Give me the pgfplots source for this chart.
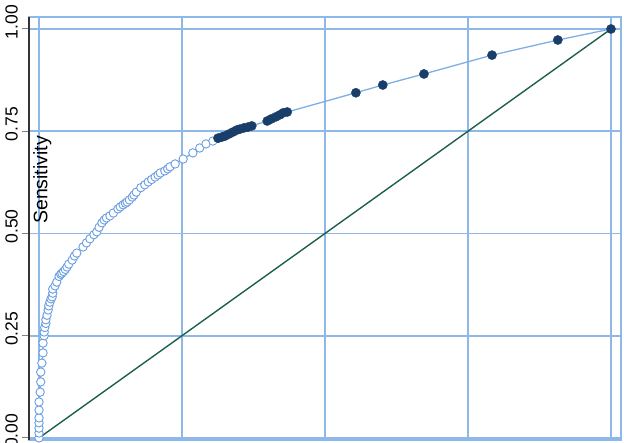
\documentclass[border=0pt]{standalone}
\usepackage{pgfplots}
\pgfplotsset{compat=1.18}
\usepackage{pgfplotstable}
\usepackage{fontspec}
\setmainfont{Liberation Sans}

\definecolor{gridblue}{HTML}{8DB8E8}
\definecolor{curveblue}{HTML}{7EAEE6}
\definecolor{markblue}{HTML}{6A9EE0}
\definecolor{navy}{HTML}{1A3E6A}
\definecolor{diaggreen}{HTML}{1D5F4F}
\definecolor{spine}{HTML}{333333}

% ROC points below the cut-off (hollow)
\pgfplotstableread{
x y
0 0
0 0.012
0 0.024
0 0.037
0 0.049
0 0.068
0 0.088
0.002 0.112
0.003 0.137
0.003 0.161
0.005 0.183
0.007 0.208
0.007 0.232
0.009 0.250
0.009 0.259
0.010 0.270
0.012 0.280
0.012 0.289
0.014 0.300
0.016 0.313
0.017 0.323
0.019 0.332
0.021 0.340
0.023 0.345
0.024 0.354
0.024 0.364
0.028 0.372
0.031 0.381
0.035 0.395
0.038 0.400
0.040 0.403
0.043 0.407
0.046 0.412
0.049 0.418
0.052 0.425
0.058 0.435
0.062 0.445
0.066 0.452
0.077 0.467
0.083 0.477
0.089 0.487
0.096 0.497
0.101 0.504
0.105 0.515
0.110 0.526
0.114 0.533
0.118 0.538
0.124 0.543
0.130 0.550
0.138 0.560
0.142 0.565
0.147 0.570
0.151 0.574
0.154 0.577
0.158 0.582
0.163 0.589
0.166 0.594
0.170 0.601
0.178 0.612
0.185 0.619
0.191 0.626
0.197 0.632
0.203 0.638
0.208 0.643
0.212 0.648
0.220 0.653
0.225 0.658
0.229 0.663
0.238 0.670
0.252 0.682
0.269 0.697
0.281 0.709
0.292 0.719
0.304 0.726
0.313 0.733
}\hollow

% ROC points above the cut-off (filled)
\pgfplotstableread{
x y
0.313 0.733
0.320 0.736
0.325 0.738
0.332 0.743
0.339 0.748
0.346 0.753
0.351 0.755
0.358 0.758
0.365 0.760
0.372 0.763
0.399 0.775
0.406 0.780
0.414 0.785
0.421 0.790
0.427 0.795
0.434 0.797
0.554 0.844
0.601 0.863
0.673 0.890
0.792 0.936
0.907 0.973
1 1
}\filled

\begin{document}
\begin{tikzpicture}
\begin{axis}[
scale only axis,
width=592pt, height=423pt,
xmin=-0.0175, xmax=1.0175,
ymin=-0.005, ymax=1.0293,
xtick={0,0.25,0.5,0.75,1},
xticklabels={},
xtick style={draw=none},
ytick={0,0.25,0.5,0.75,1},
yticklabels={0.00,0.25,0.50,0.75,1.00},
ytick pos=left,
tick align=outside,
major tick length=7pt,
major tick style={line width=1pt},
yticklabel style={font=\fontsize{17.5}{20}\selectfont, inner sep=0pt,
  xshift=-4pt, yshift=7pt, rotate=90, anchor=south},
grid=major,
major grid style={draw=gridblue, line width=1.6pt},
axis line style={gridblue, line width=1.6pt},
clip=false,
]
\addplot[curveblue, line width=1.3pt, no marks] table[x=x,y=y] {\hollow};
\addplot[curveblue, line width=1.3pt, no marks] table[x=x,y=y] {\filled};
\addplot[diaggreen, line width=1.4pt, no marks] coordinates {(0,0) (1,1)};
\addplot[only marks, mark=*, mark size=4.2pt,
  mark options={draw=markblue, fill=white, line width=0.9pt}]
  table[x=x,y=y] {\hollow};
\addplot[only marks, mark=*, mark size=4.6pt,
  mark options={draw=navy, fill=navy}]
  table[x=x,y=y] {\filled};
\draw[spine, line width=1.4pt] (rel axis cs:0,0) -- (rel axis cs:0,1);
\node[rotate=90, anchor=north, inner sep=0pt,
  font=\fontsize{19.5}{22}\selectfont] at (axis cs:-0.0105,0.631) {Sensitivity};
\coordinate (sw) at (rel axis cs:0,0);
\coordinate (ne) at (rel axis cs:1,1);
\end{axis}
\pgfresetboundingbox
\useasboundingbox ([xshift=-29pt,yshift=-3pt]sw) rectangle ([xshift=3pt,yshift=17pt]ne);
\end{tikzpicture}
\end{document}
